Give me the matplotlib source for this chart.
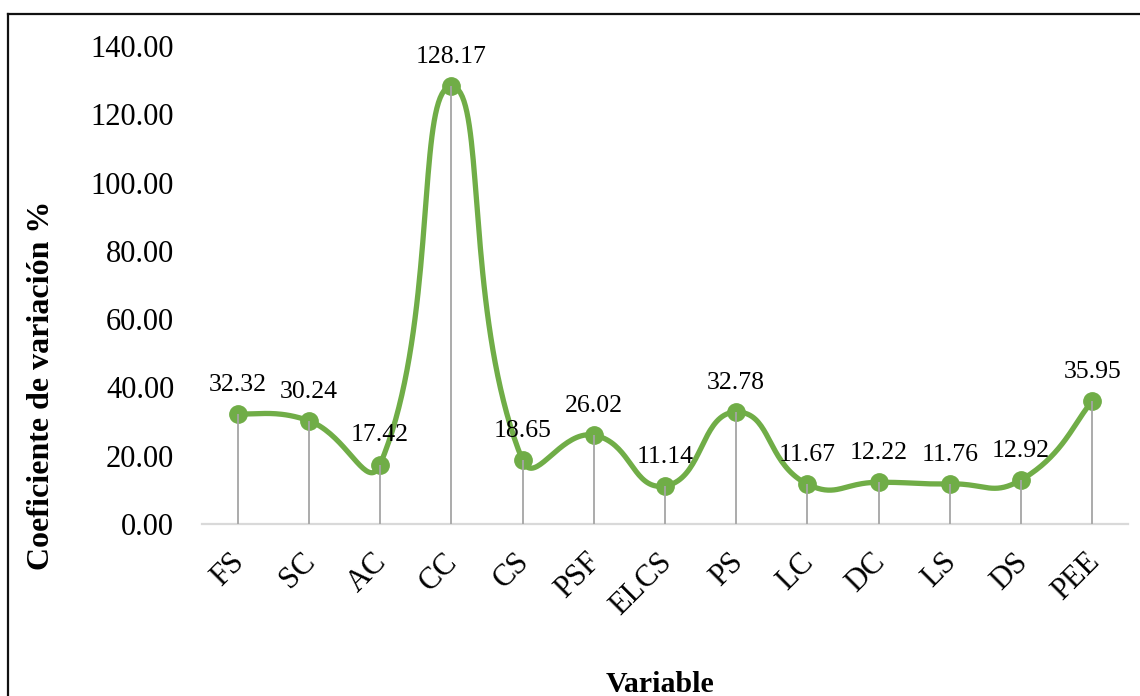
import numpy as np
import matplotlib
matplotlib.use('Agg')
import matplotlib.pyplot as plt
from matplotlib.lines import Line2D
from matplotlib.ticker import FormatStrFormatter
from matplotlib.transforms import ScaledTranslation

variables = ['FS', 'SC', 'AC', 'CC', 'CS', 'PSF', 'ELCS', 'PS', 'LC', 'DC', 'LS', 'DS', 'PEE']
coef_var = [32.32, 30.24, 17.42, 128.17, 18.65, 26.02, 11.14, 32.78, 11.67, 12.22, 11.76, 12.92, 35.95]

verde = '#70AD47'
gris = '#A5A5A5'

plt.rcParams['font.family'] = ['Liberation Serif', 'DejaVu Serif']


def suavizar(x, y, sx=71.2, sy=3.414, k=0.5, n=40):
    # curva suave tipo Excel: Bezier con tangentes escaladas por la longitud
    # de los tramos (calculado en pixeles)
    p = np.column_stack([np.asarray(x, float) * sx, np.asarray(y, float) * sy])
    out = []
    for i in range(len(p) - 1):
        p0 = p[max(i - 1, 0)]
        p1, p2 = p[i], p[i + 1]
        p3 = p[min(i + 2, len(p) - 1)]
        d01 = np.hypot(*(p1 - p0))
        d12 = np.hypot(*(p2 - p1))
        d23 = np.hypot(*(p3 - p2))
        f1 = d12 / (d01 + d12) if d01 > 0 else 0.5
        f2 = d12 / (d12 + d23) if d23 > 0 else 0.5
        c1 = p1 + (p2 - p0) * f1 * k
        c2 = p2 - (p3 - p1) * f2 * k
        t = np.linspace(0, 1, n)[:, None]
        seg = ((1 - t) ** 3 * p1 + 3 * (1 - t) ** 2 * t * c1
               + 3 * (1 - t) * t ** 2 * c2 + t ** 3 * p2)
        out.append(seg)
    out = np.vstack(out)
    return out[:, 0] / sx, out[:, 1] / sy


fig = plt.figure(figsize=(11.4, 6.96), dpi=100)
ax = fig.add_axes([202 / 1140, 1 - 524 / 696, 926 / 1140, 478 / 696])

xs = np.arange(len(variables))
cx, cy = suavizar(xs, coef_var)
ax.plot(cx, cy, color=verde, linewidth=3.8, zorder=3, solid_capstyle='round')
ax.plot(xs, coef_var, 'o', color=verde, markersize=12.5, zorder=4)
ax.vlines(xs, 0, coef_var, color=gris, linewidth=1.3, zorder=5)

for x, v in zip(xs, coef_var):
    ax.annotate(f'{v:.2f}', (x, v), xytext=(0, 13), textcoords='offset points',
                ha='center', va='bottom', fontsize=18.5, clip_on=False)

ax.set_xlim(-0.5, len(variables) - 0.5)
ax.set_ylim(0, 140)
ax.set_yticks(np.arange(0, 141, 20))
ax.yaxis.set_major_formatter(FormatStrFormatter('%.2f'))
ax.set_xticks(xs)
ax.set_xticklabels(variables, rotation=45, ha='right', rotation_mode='anchor')
ax.tick_params(axis='y', length=0, pad=20, labelsize=22)
ax.tick_params(axis='x', length=0, pad=14, labelsize=22)
desplaza = ScaledTranslation(-8 / 100, -4 / 100, fig.dpi_scale_trans)
for lab in ax.get_xticklabels():
    lab.set_transform(lab.get_transform() + desplaza)

for s in ['top', 'right', 'left']:
    ax.spines[s].set_visible(False)
ax.spines['bottom'].set_color('#D9D9D9')
ax.spines['bottom'].set_linewidth(1.6)

ax.set_ylabel('Coeficiente de variación %', fontsize=23, fontweight='bold')
ax.yaxis.set_label_coords(-0.158, 0.291)
fig.text(660 / 1140, 1 - 684 / 696, 'Variable', ha='center', va='center',
         fontsize=21.5, fontweight='bold')

# marco exterior
fig.add_artist(Line2D([8 / 1140, 1], [1 - 14 / 696, 1 - 14 / 696], color='#111111', linewidth=1.6))
fig.add_artist(Line2D([8 / 1140, 8 / 1140], [0, 1 - 14 / 696], color='#111111', linewidth=1.6))

fig.savefig('out.png', dpi=100)
